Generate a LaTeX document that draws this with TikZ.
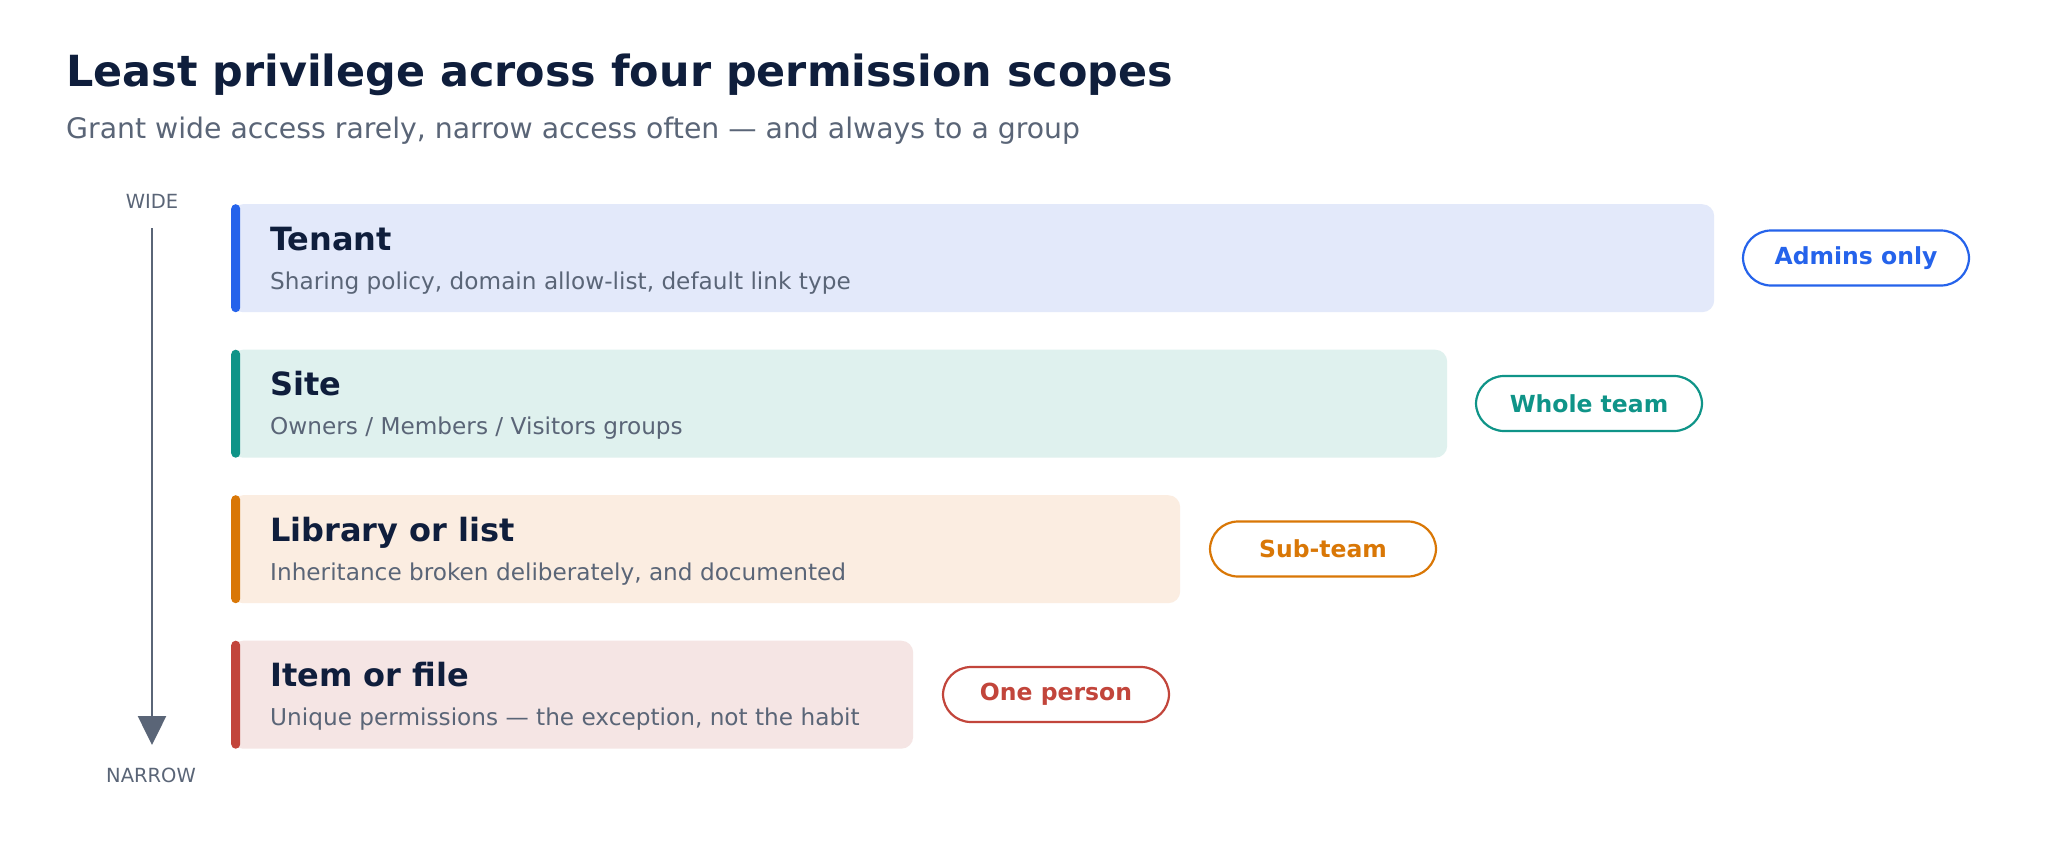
\documentclass[tikz,border=0pt]{standalone}
\usepackage{fontspec}
\setmainfont{DejaVu Sans}
\usetikzlibrary{arrows.meta}

\definecolor{navy}{HTML}{0F1E3C}
\definecolor{slate}{HTML}{5A6577}
\definecolor{tenantbar}{HTML}{2563EB}
\definecolor{tenantfill}{HTML}{E3E9FA}
\definecolor{sitebar}{HTML}{0F9488}
\definecolor{sitefill}{HTML}{DFF1EE}
\definecolor{libbar}{HTML}{D97706}
\definecolor{libfill}{HTML}{FBEDE1}
\definecolor{itembar}{HTML}{C2453B}
\definecolor{itemfill}{HTML}{F5E5E4}

\begin{document}
\begin{tikzpicture}[x=1pt,y=-1pt,
  scope box/.style={rectangle,rounded corners=12pt,inner sep=0pt,anchor=north west,minimum height=108pt},
  side bar/.style={rectangle,rounded corners=4.5pt,inner sep=0pt,anchor=north west,minimum width=9pt,minimum height=108pt},
  scope name/.style={anchor=base west,inner sep=0pt,text=navy,font=\fontsize{32}{38}\selectfont\bfseries},
  scope note/.style={anchor=base west,inner sep=0pt,text=slate,font=\fontsize{23.2}{28}\selectfont},
  pill/.style={rectangle,rounded corners=28pt,draw,line width=2.2pt,fill=white,inner sep=0pt,
    minimum width=226pt,minimum height=55pt,font=\fontsize{23.5}{28}\selectfont\bfseries},
  end label/.style={inner sep=0pt,text=slate,font=\fontsize{19.5}{23}\selectfont}]

  \useasboundingbox[fill=white] (0,0) rectangle (2045,841);

  \node[anchor=base west,inner sep=0pt,text=navy,font=\fontsize{42.9}{50}\selectfont\bfseries] (title) at (66,86)
    {Least privilege across four permission scopes};
  \node[anchor=base west,inner sep=0pt,text=slate,font=\fontsize{28.3}{34}\selectfont] (subtitle) at (66,138)
    {Grant wide access rarely, narrow access often — and always to a group};

  % wide to narrow axis
  \node[end label] (wide) at (152,201) {WIDE};
  \node[end label] (narrow) at (151,775) {NARROW};
  \coordinate (axis top) at (152,228);
  \coordinate (axis tip) at (152,745);
  \draw[slate,line width=2.5pt,-{Triangle[length=29pt,width=28pt]}] (axis top) -- (axis tip);

  % tenant
  \node[scope box,fill=tenantfill,minimum width=1483pt] (tenant) at (231,204) {};
  \node[side bar,fill=tenantbar] (tenant bar) at (231,204) {};
  \node[scope name] (tenant name) at (270,250) {Tenant};
  \node[scope note] (tenant note) at (270,289) {Sharing policy, domain allow-list, default link type};
  \node[pill,draw=tenantbar,text=tenantbar] (tenant pill) at (1856,258) {Admins only};

  % site
  \node[scope box,fill=sitefill,minimum width=1216pt] (site) at (231,349.5) {};
  \node[side bar,fill=sitebar] (site bar) at (231,349.5) {};
  \node[scope name] (site name) at (270,395.5) {Site};
  \node[scope note] (site note) at (270,434.5) {Owners / Members / Visitors groups};
  \node[pill,draw=sitebar,text=sitebar] (site pill) at (1589,403.5) {Whole team};

  % library or list
  \node[scope box,fill=libfill,minimum width=949pt] (library) at (231,495) {};
  \node[side bar,fill=libbar] (library bar) at (231,495) {};
  \node[scope name] (library name) at (270,541) {Library or list};
  \node[scope note] (library note) at (270,580) {Inheritance broken deliberately, and documented};
  \node[pill,draw=libbar,text=libbar] (library pill) at (1323,549) {Sub-team};

  % item or file
  \node[scope box,fill=itemfill,minimum width=682pt] (item) at (231,640.5) {};
  \node[side bar,fill=itembar] (item bar) at (231,640.5) {};
  \node[scope name] (item name) at (270,686.5) {Item or file};
  \node[scope note] (item note) at (270,725.5) {Unique permissions — the exception, not the habit};
  \node[pill,draw=itembar,text=itembar] (item pill) at (1056,694.5) {One person};

\end{tikzpicture}
\end{document}
